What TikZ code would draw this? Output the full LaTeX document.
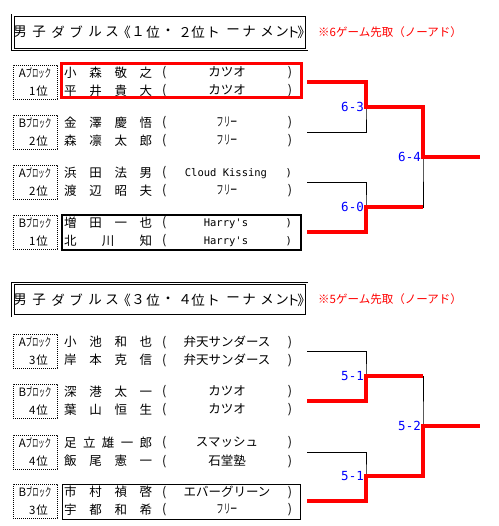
\documentclass[tikz,border=0pt]{standalone}
\usepackage{fontspec}
\setmainfont{Noto Sans CJK JP}
\setmonofont{DejaVu Sans Mono}
\usetikzlibrary{positioning}
\tikzset{
  ttl/.style={font=\fontsize{13.5}{13.5}\selectfont, inner sep=0pt},
  ttlbox/.style={draw, double, double distance=1.6pt, line width=0.8pt},
  note/.style={font=\fontsize{11.5}{11.5}\selectfont, text=red, inner sep=0pt, anchor=west},
  blkbox/.style={draw, dash pattern=on 0.8pt off 1.2pt, line width=0.7pt,
    minimum width=44pt, minimum height=34pt, inner sep=0pt, align=center,
    font=\fontsize{11.5}{18}\selectfont},
  player/.style={font=\fontsize{12.5}{12.5}\selectfont, inner sep=0pt, anchor=west},
  club/.style={font=\fontsize{12.5}{12.5}\selectfont, inner sep=0pt},
  score/.style={font=\ttfamily\fontsize{12.5}{12.5}\selectfont, text=blue, inner sep=2pt, anchor=east},
  thin/.style={line width=0.8pt},
  win/.style={red, line width=3.2pt}
}
\newcommand{\lat}{\ttfamily\fontsize{10.5}{10.5}\selectfont}
\newcommand{\hw}[1]{\scalebox{0.55}[1]{#1}}
\begin{document}
\begin{tikzpicture}[x=1pt,y=-1pt]
  \useasboundingbox (0,0) rectangle (498,526);
  % titles
  \draw[ttlbox] (13,15.3) rectangle (306.8,49.7);
  \draw[ttlbox] (13,283.3) rectangle (306.8,315.7);
  \foreach \yy/\ra/\rb [count=\s] in {32/１/２,300/３/４}
    \foreach \x/\ch [count=\k] in {20/男,39/子,58/ダ,76/ブ,95/ル,112/ス,124/《,138/\ra,153/位,
        168/・,185/\rb,198/位,213/ト,233/ー,249/ナ,267/メ,282/ン,293/ト,304/》}
      \node[ttl] (tt\s\k) at (\x,\yy) {\ch};
  \node[note] (note1) at (318,32) {※6ゲーム先取（ノーアド）};
  \node[note] (note2) at (318,299) {※5ゲーム先取（ノーアド）};
  % pairs
  \foreach \c/\bk/\rk/\pa/\ca/\pb/\cb [count=\i] in {
      82/A/1/{小\hfill 森\hfill 敬\hfill 之}/カツオ/{平\hfill 井\hfill 貴\hfill 大}/カツオ,
      132/B/2/{金\hfill 澤\hfill 慶\hfill 悟}/\hw{フリー}/{森\hfill 凛\hfill 太\hfill 郎}/\hw{フリー},
      182/A/2/{浜\hfill 田\hfill 法\hfill 男}/{\lat Cloud Kissing}/{渡\hfill 辺\hfill 昭\hfill 夫}/\hw{フリー},
      232/B/1/{増\hfill 田\hfill 一\hfill 也}/{\lat Harry's}/{北\hfill 川\hfill 知}/{\lat Harry's},
      351/A/3/{小\hfill 池\hfill 和\hfill 也}/弁天サンダース/{岸\hfill 本\hfill 克\hfill 信}/弁天サンダース,
      401/B/4/{深\hfill 港\hfill 太\hfill 一}/カツオ/{葉\hfill 山\hfill 恒\hfill 生}/カツオ,
      452/A/4/{足\hfill 立\hfill 雄\hfill 一\hfill 郎}/スマッシュ/{飯\hfill 尾\hfill 憲\hfill 一}/石堂塾,
      501/B/3/{市\hfill 村\hfill 禎\hfill 啓}/エバーグリーン/{宇\hfill 都\hfill 和\hfill 希}/\hw{フリー}}
  {
    \node[blkbox] (blk\i) at (35,\c) {\bk\hw{ブロック}\\\hspace*{7pt}\rk\hspace{1pt}位};
    \node[player] (pa\i) at (64,\c-9) {\makebox[88pt][s]{\pa}};
    \node[player] (pb\i) at (64,\c+9) {\makebox[88pt][s]{\pb}};
    \node[club] (ca\i) at (227,\c-9) {\makebox[130pt][s]{(\hfill \ca\hfill )}};
    \node[club] (cb\i) at (227,\c+9) {\makebox[130pt][s]{(\hfill \cb\hfill )}};
    \coordinate (e\i) at (307,\c);
  }
  % highlight boxes
  \draw[red, line width=3pt] (61,64) rectangle (301,98);
  \draw[line width=2pt] (62,215) rectangle (301,250);
  \draw[thin] (62,484) rectangle (300,519);
  % bracket
  \coordinate (j1) at (366,107);
  \coordinate (j2) at (366,207);
  \coordinate (j3) at (366,376);
  \coordinate (j4) at (366,476);
  \coordinate (k1) at (423,157);
  \coordinate (k2) at (423,426);
  \coordinate (w1) at (480,157);
  \coordinate (w2) at (480,426);
  \draw[thin] (e1) -| (j1) |- (e2);
  \draw[thin] (e3) -| (j2) |- (e4);
  \draw[thin] (j1) -| (k1) |- (j2);
  \draw[thin] (e5) -| (j3) |- (e6);
  \draw[thin] (e7) -| (j4) |- (e8);
  \draw[thin] (j3) -| (k2) |- (j4);
  \draw[win] (e1) -| (j1) -| (k1) -- (w1);
  \draw[win] (e4) -| (j2) -- (j2 -| k1);
  \draw[win] (e6) -| (j3) -- (j3 -| k2);
  \draw[win] (e8) -| (j4) -| (k2) -- (w2);
  \node[score] (sc1) at (j1) {6-3};
  \node[score] (sc2) at (j2) {6-0};
  \node[score] (sc3) at (k1) {6-4};
  \node[score] (sc4) at (j3) {5-1};
  \node[score] (sc5) at (j4) {5-1};
  \node[score] (sc6) at (k2) {5-2};
\end{tikzpicture}
\end{document}
